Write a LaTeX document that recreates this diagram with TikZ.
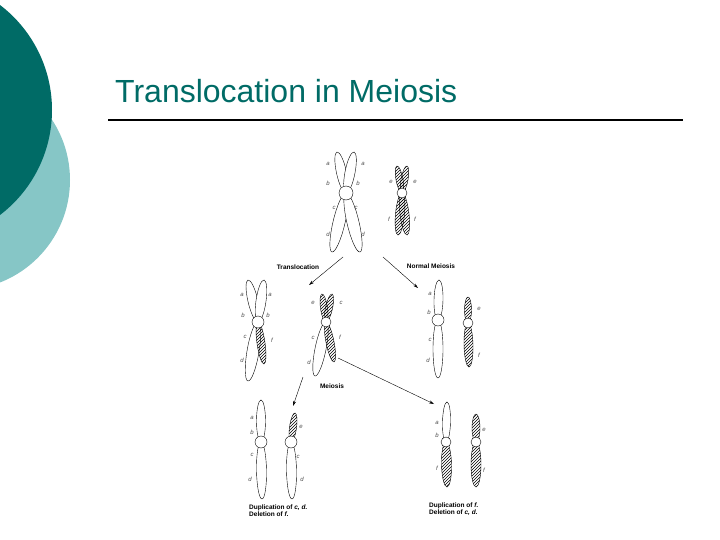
\documentclass[tikz,border=0pt]{standalone}
\usepackage{fontspec}
\setmainfont{Liberation Sans}
\usetikzlibrary{patterns,arrows.meta}
\definecolor{darkteal}{HTML}{006B66}
\definecolor{lightteal}{HTML}{86C6C6}
\newcommand\arm[6]{%
 \pgfmathsetmacro\armang{atan2(#4-#2,#3-#1)}%
 \pgfmathsetmacro\armlen{veclen(#3-#1,#4-#2)/2}%
 \draw[thin,fill=white,#6,shift={(#1,#2)},rotate=-\armang] (\armlen,0) ellipse[x radius=\armlen, y radius=#5];}
\newcommand\cen[3]{\draw[thin,fill=white] (#1,#2) circle[radius=#3];}
\tikzset{hat/.style={pattern=north east lines},
 lab/.style={font=\itshape\fontsize{6}{6}\selectfont,inner sep=0pt,text=black!70},
 captxt/.style={font=\bfseries\fontsize{6.5}{7}\selectfont,inner sep=0pt,align=left,anchor=west},
 arr/.style={-{Stealth[length=5pt,width=3pt]},thin}}
\begin{document}
\begin{tikzpicture}[x=1pt,y=-1pt]
\useasboundingbox (0,0) rectangle (720,540);
\fill[lightteal] (-40,180) circle[radius=110];
\fill[darkteal] (-80,110) circle[radius=132];
\node[anchor=base west,inner sep=0pt,text=darkteal,font=\fontsize{32}{36}\selectfont] (title) at (115,103) {Translocation in Meiosis};
\draw[line width=1.2pt] (108,120) -- (683,120);
% top pair
\arm{346}{193}{337}{152}{5}{} \arm{346}{193}{354}{152}{5}{}
\arm{346}{193}{332}{252}{6}{} \arm{346}{193}{360}{252}{6}{}
\cen{346}{193}{7}
\arm{402}{193}{397}{166}{3.5}{hat} \arm{402}{193}{407}{166}{3.5}{hat}
\arm{402}{193}{398}{235}{4.5}{hat} \arm{402}{193}{407}{235}{4.5}{hat}
\cen{402}{193}{5}
\foreach \t/\x/\y in {a/328/164,a/363/164,b/328/183,b/358/183,c/334/208,c/356/208,d/328/234,d/363/234,e/391/182,e/415/182,f/389/219,f/415/219}
 \node[lab] at (\x,\y) {\t};
% middle left
\arm{258}{322}{248}{280}{5}{} \arm{258}{322}{264}{280}{5}{}
\arm{258}{322}{248}{381}{6}{} \arm{258}{322}{264}{364}{4}{hat}
\cen{258}{322}{6}
\arm{326}{322}{322}{294}{3.5}{hat} \arm{326}{322}{332}{294}{3.5}{hat}
\arm{326}{322}{315}{376}{5.5}{} \arm{326}{322}{334}{362}{4}{hat}
\cen{326}{322}{5}
\foreach \t/\x/\y in {a/242/295,a/270/295,b/243/315,b/268/315,c/245/337,f/272/340,d/242/360,e/313/303,c/341/303,c/313/338,f/340/337,d/309/362}
 \node[lab] at (\x,\y) {\t};
% middle right
\arm{438}{320}{439}{280}{4.5}{} \arm{438}{320}{438}{378}{5}{}
\cen{438}{320}{6}
\arm{468}{323}{468}{297}{3.5}{hat} \arm{468}{323}{469}{367}{4.5}{hat}
\cen{468}{323}{5}
\foreach \t/\x/\y in {a/430/294,b/429/312,c/430/340,d/428/360,e/479/309,f/479/355}
 \node[lab] at (\x,\y) {\t};
% bottom left
\arm{261}{442}{261}{400}{4.5}{} \arm{261}{442}{262}{499}{5}{}
\cen{261}{442}{6}
\arm{291}{442}{295}{413}{3.5}{hat} \arm{291}{442}{292}{499}{5}{}
\cen{291}{442}{6}
\foreach \t/\x/\y in {a/252/418,b/252/432,c/252/455,d/250/479,e/301/427,c/298/457,d/302/479}
 \node[lab] at (\x,\y) {\t};
\node[captxt] (capL) at (249,511) {Duplication of \textit{c, d.}\\Deletion of \textit{f.}};
% bottom right
\arm{446}{442}{447}{402}{4}{} \arm{446}{442}{447}{487}{5}{hat}
\cen{446}{442}{5}
\arm{476}{442}{476}{414}{4}{hat} \arm{476}{442}{476}{487}{5}{hat}
\cen{476}{442}{5}
\foreach \t/\x/\y in {a/437/423,b/437/435,f/437/468,e/484/430,f/484/470}
 \node[lab] at (\x,\y) {\t};
\node[captxt] (capR) at (429,509) {Duplication of \textit{f.}\\Deletion of \textit{c, d.}};
% arrows
\coordinate (t1) at (343,257); \coordinate (t2) at (309,285);
\coordinate (n1) at (383,257); \coordinate (n2) at (418,288);
\coordinate (m1) at (303,377); \coordinate (m2) at (293,406);
\coordinate (k1) at (338,358); \coordinate (k2) at (434,404);
\draw[arr] (t1) -- (t2); \draw[arr] (n1) -- (n2);
\draw[arr] (m1) -- (m2); \draw[arr] (k1) -- (k2);
\node[captxt,anchor=center] (lt) at (298,267) {Translocation};
\node[captxt,anchor=center] (ln) at (431,266) {Normal Meiosis};
\node[captxt,anchor=center] (lm) at (332,386) {Meiosis};
\end{tikzpicture}
\end{document}
